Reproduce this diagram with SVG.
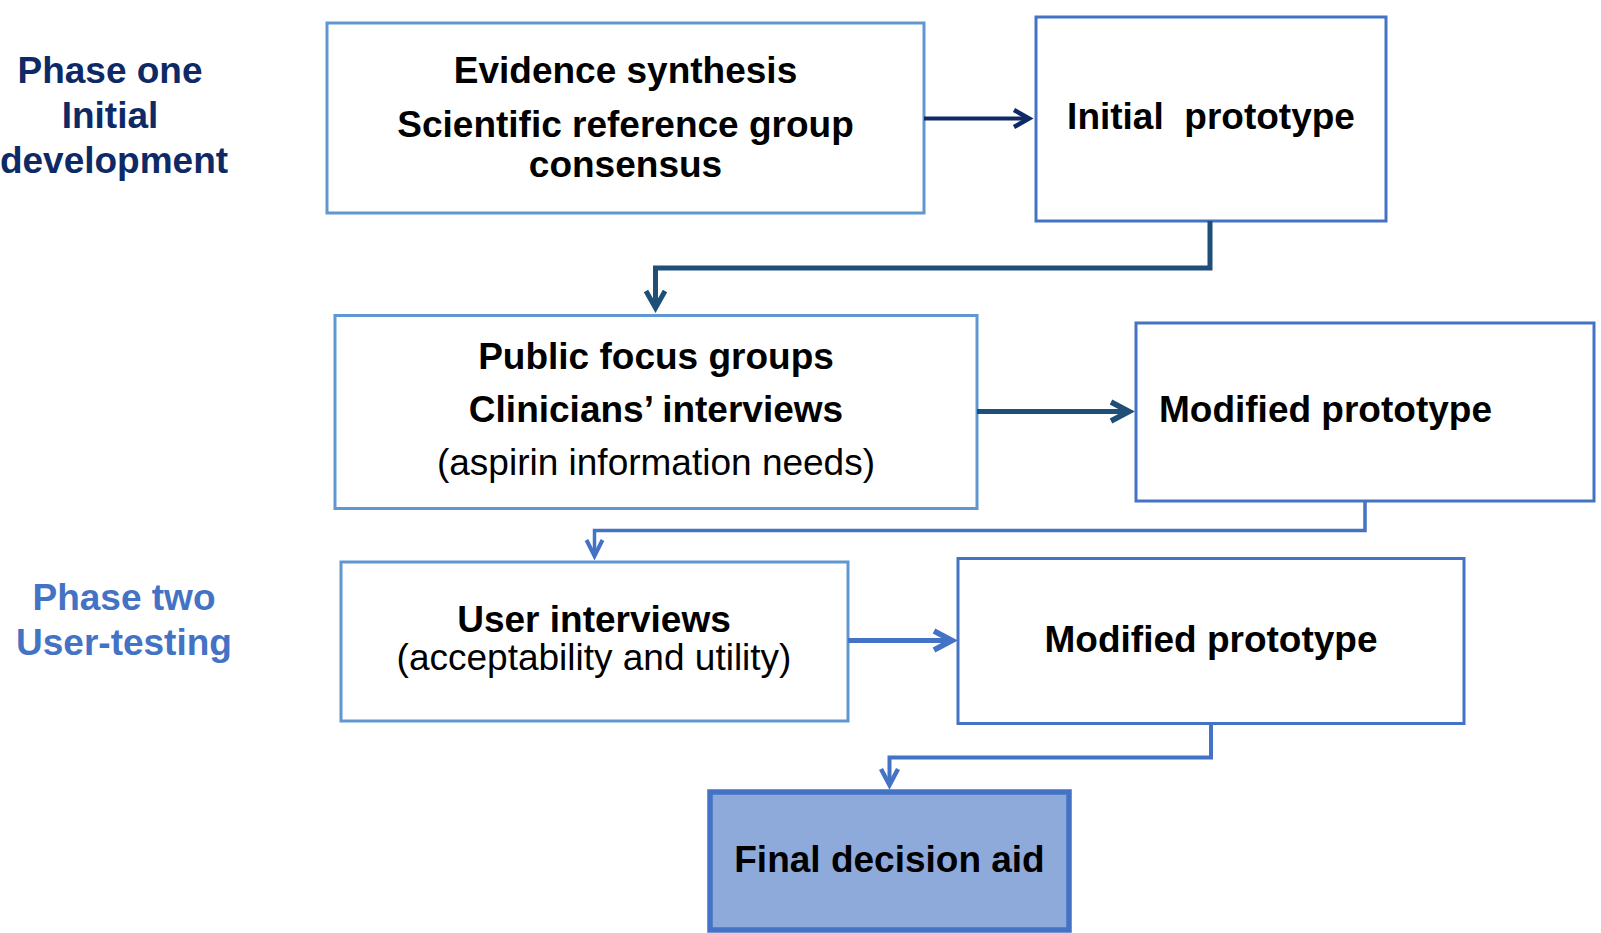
<svg xmlns="http://www.w3.org/2000/svg" width="1601" height="933" viewBox="0 0 1601 933">
<style>
  text { font-family: "Liberation Sans", Arial, sans-serif; font-size: 37px; }
  .b { font-weight: bold; fill: #000; }
  .r { font-weight: normal; fill: #000; }
  .c { text-anchor: middle; }
  .boxA { fill: #fff; stroke: #5f97d0; stroke-width: 3; }
  .boxB { fill: #fff; stroke: #4472c4; stroke-width: 3; }
  .final { fill: #8eaadb; stroke: #4472c4; stroke-width: 5.5; }
  .p1 { fill: #0e2a66; font-weight: bold; }
  .p2 { fill: #4472c4; font-weight: bold; }
  .conn { fill: none; stroke-linejoin: miter; }
  .head { fill: none; stroke-linejoin: miter; stroke-linecap: butt; }
</style>

<g id="phase-one-label">
  <text class="p1 c" x="110" y="83">Phase one</text>
  <text class="p1 c" x="110" y="128">Initial</text>
  <text class="p1 c" x="114" y="173">development</text>
</g>

<g id="phase-two-label">
  <text class="p2 c" x="124" y="610">Phase two</text>
  <text class="p2 c" x="124" y="655">User-testing</text>
</g>

<g id="evidence-synthesis">
  <rect class="boxA" x="327" y="23" width="597" height="190"/>
  <text class="b c" x="625.5" y="83">Evidence synthesis</text>
  <text class="b c" x="625.5" y="136.5">Scientific reference group</text>
  <text class="b c" x="625.5" y="176.5">consensus</text>
</g>

<g id="initial-prototype">
  <rect class="boxB" x="1036" y="17" width="350" height="204"/>
  <text class="b c" x="1211" y="128.5">Initial&#160; prototype</text>
</g>

<g id="public-focus-groups">
  <rect class="boxA" x="335" y="315.5" width="642" height="193"/>
  <text class="b c" x="656" y="368.5">Public focus groups</text>
  <text class="b c" x="656" y="421.5">Clinicians’ interviews</text>
  <text class="r c" x="656" y="475">(aspirin information needs)</text>
</g>

<g id="modified-prototype-1">
  <rect class="boxB" x="1136" y="323" width="458" height="178"/>
  <text class="b" x="1159" y="421.5">Modified prototype</text>
</g>

<g id="user-interviews">
  <rect class="boxA" x="341" y="562" width="507" height="159"/>
  <text class="b c" x="594" y="631.5">User interviews</text>
  <text class="r c" x="594" y="670">(acceptability and utility)</text>
</g>

<g id="modified-prototype-2">
  <rect class="boxB" x="958" y="558.5" width="506" height="165"/>
  <text class="b c" x="1211" y="651.5">Modified prototype</text>
</g>

<g id="final-decision-aid">
  <rect class="final" x="710" y="792" width="359" height="138"/>
  <text class="b c" x="889.5" y="872">Final decision aid</text>
</g>

<g id="connectors">
  <!-- evidence -> initial prototype -->
  <path class="conn" d="M924,118.5 H1028" stroke="#0e2a66" stroke-width="4"/>
  <path class="head" d="M1014,110 L1029,118.5 L1014,127" stroke="#0e2a66" stroke-width="4.5"/>

  <!-- initial prototype -> public focus groups -->
  <path class="conn" d="M1210,221 V268 H655.5 V308" stroke="#1f4e79" stroke-width="5"/>
  <path class="head" d="M646,291 L655.5,308 L665,291" stroke="#1f4e79" stroke-width="5"/>

  <!-- public focus groups -> modified prototype 1 -->
  <path class="conn" d="M977,411.5 H1128" stroke="#1f4e79" stroke-width="5"/>
  <path class="head" d="M1111,402 L1129,411.5 L1111,421" stroke="#1f4e79" stroke-width="5.5"/>

  <!-- modified prototype 1 -> user interviews -->
  <path class="conn" d="M1365,501 V530.5 H594.5 V556" stroke="#4472c4" stroke-width="3.5"/>
  <path class="head" d="M586.5,540 L594.5,556 L602.5,540" stroke="#4472c4" stroke-width="4"/>

  <!-- user interviews -> modified prototype 2 -->
  <path class="conn" d="M848,640.5 H952" stroke="#4472c4" stroke-width="5"/>
  <path class="head" d="M934,631 L952,640.5 L934,650" stroke="#4472c4" stroke-width="5.5"/>

  <!-- modified prototype 2 -> final decision aid -->
  <path class="conn" d="M1211,724 V757.5 H889.5 V785" stroke="#4472c4" stroke-width="4"/>
  <path class="head" d="M881,769 L889.5,785 L898,769" stroke="#4472c4" stroke-width="4.5"/>
</g>
</svg>
